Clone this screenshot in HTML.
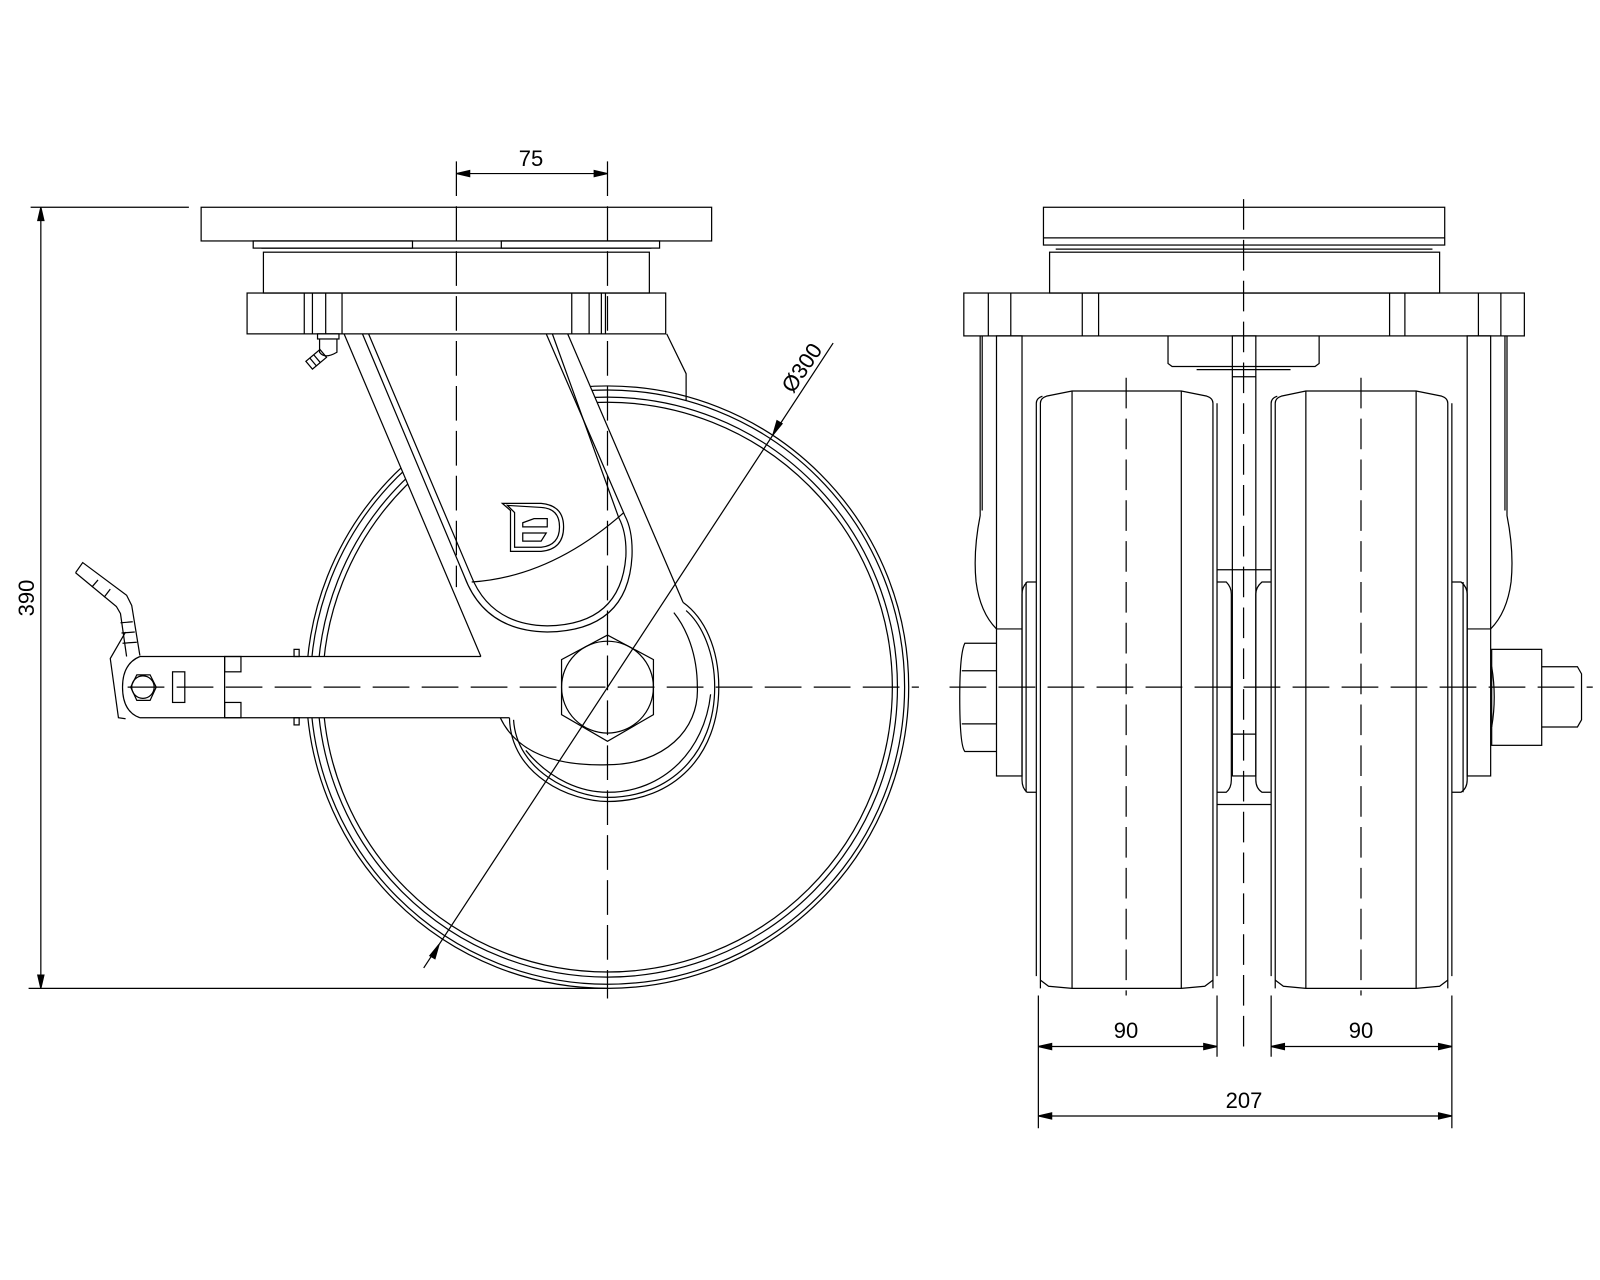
<!DOCTYPE html>
<html><head><meta charset="utf-8"><style>
html,body{margin:0;padding:0;background:#fff}
svg{display:block}
text{font-family:"Liberation Sans",sans-serif;font-size:22px;fill:#000}
</style></head><body>
<svg width="1600" height="1280" viewBox="0 0 1600 1280" xmlns="http://www.w3.org/2000/svg">
<rect width="1600" height="1280" fill="#fff"/>
<g transform="scale(1.021)" fill="none" stroke="#000" stroke-width="1.2">

<!-- ================= LEFT VIEW ================= -->
<!-- wheel -->
<circle cx="595" cy="673" r="295"/>
<circle cx="595" cy="673" r="291"/>
<circle cx="595" cy="673" r="284"/>
<circle cx="595" cy="673" r="279"/>

<!-- fork occluder -->
<path d="M337,327 L471,643 L137,643 Q120,650 120,673 Q120,697 137,703 L499,703 C500,760 560,785 595,785 C660,785 704,740 704,673 C704,635 690,605 669,590 L556,327 Z" fill="#fff" stroke="none"/>

<!-- top plate -->
<rect x="197" y="203" width="500" height="33"/>
<rect x="248" y="236" width="156" height="7"/>
<rect x="491" y="236" width="155" height="7"/>
<line x1="256" y1="243" x2="638" y2="243"/>
<rect x="258" y="247" width="378" height="40"/>
<rect x="242" y="287" width="410" height="40"/>
<line x1="298" y1="287" x2="298" y2="327"/><line x1="306" y1="287" x2="306" y2="327"/>
<line x1="319" y1="287" x2="319" y2="327"/><line x1="335" y1="287" x2="335" y2="327"/>
<line x1="560" y1="287" x2="560" y2="327"/><line x1="577" y1="287" x2="577" y2="327"/>
<line x1="589" y1="287" x2="589" y2="327"/><line x1="593" y1="287" x2="593" y2="327"/>
<!-- brake housing -->
<polyline points="653,327 672,366 672,392"/>
<!-- grease nipple -->
<rect x="311" y="327" width="21" height="5"/>
<path d="M313,332 L313,345 Q318,352 330,345 L330,332"/>
<g transform="rotate(-40 312 350)"><rect x="300" y="345" width="18" height="10"/><line x1="305" y1="345" x2="305" y2="355"/><line x1="310" y1="345" x2="310" y2="355"/></g>

<!-- fork outlines -->
<polyline points="337,327 471,643"/>
<line x1="556" y1="327" x2="669" y2="590"/>
<!-- slot double line -->
<path d="M355,327 L455,565 Q475,618 536,619 Q615,618 619,545 Q620,520 612,505 L535,327"/>
<path d="M361,327 L461,563 Q480,612 536,613 Q608,612 613,545 Q614,522 606,507 L541,327"/>
<path d="M462,570 Q540,565 611,502"/>
<!-- logo -->
<path d="M492,493 L500,500 L500,540 L530,540 Q552,538 552,516 Q552,495 530,493 Z"/>
<path d="M497,495 L504,502 L504,536 L530,536 Q548,534 548,516 Q548,498 530,497 Z"/>
<path d="M512,512 L523,508 L536,508 L536,516 L512,516 Z"/>
<path d="M512,522 L535,522 L530,530 L512,530 Z"/>

<!-- arm -->
<line x1="137" y1="643" x2="471" y2="643"/>
<line x1="137" y1="703" x2="499" y2="703"/>
<path d="M137,643 Q120,650 120,673 Q120,697 137,703"/>
<polygon points="128,673 134,661 147,661 153,673 147,686 134,686"/>
<circle cx="140" cy="673" r="11"/>
<rect x="169" y="658" width="12" height="30"/>
<line x1="220" y1="643" x2="220" y2="703"/>
<rect x="220" y="643" width="16" height="15"/>
<rect x="220" y="688" width="16" height="15"/>
<rect x="288" y="636" width="5" height="7"/>
<rect x="288" y="703" width="5" height="7"/>
<!-- pedal -->
<polyline points="74,561 81,551 124,583 129,593 137,642"/>
<polyline points="74,561 114,594 118,601 124,643"/>
<line x1="96" y1="568" x2="90" y2="575"/><line x1="108" y1="577" x2="102" y2="585"/>
<line x1="118" y1="610" x2="130" y2="609"/><line x1="119" y1="620" x2="132" y2="619"/><line x1="120" y1="630" x2="134" y2="629"/>
<polyline points="123,619 108,645 116,703 123,704"/>

<!-- hub lobe -->
<path d="M499,703 C500,760 560,785 595,785 C660,785 704,740 704,673 C704,635 690,605 669,590"/>
<path d="M503,705 C506,755 560,780 595,781 C656,781 700,738 700,673 C700,640 688,612 672,598"/>
<path d="M490,703 C510,745 560,750 595,749 C650,749 685,715 683,673 C683,640 672,615 660,600"/>
<path d="M515,735 C540,765 570,776 595,776 C650,776 690,735 696,680"/>
<polygon points="595,622 640,646 640,700 595,726 550,700 550,646"/>
<circle cx="595" cy="673" r="45"/>

<!-- centerlines left -->
<line x1="447" y1="158" x2="447" y2="575" stroke-dasharray="34,10"/>
<line x1="595" y1="158" x2="595" y2="978" stroke-dasharray="34,10"/>
<line x1="125" y1="673" x2="900" y2="673" stroke-dasharray="36,12"/>

<!-- diameter -->
<line x1="415" y1="948" x2="816" y2="336"/>
<polygon points="757,426 761,412 766,415" fill="#000"/>
<polygon points="430,925 426,939 421,936" fill="#000"/>

<!-- dim 75 -->
<line x1="447" y1="170" x2="595" y2="170"/>
<polygon points="447,170 460,167 460,173" fill="#000"/>
<polygon points="595,170 582,167 582,173" fill="#000"/>
<!-- dim 390 -->
<line x1="40" y1="203" x2="40" y2="968"/>
<line x1="30" y1="203" x2="185" y2="203"/>
<line x1="28" y1="968" x2="595" y2="968"/>
<polygon points="40,203 37,216 43,216" fill="#000"/>
<polygon points="40,968 37,955 43,955" fill="#000"/>

<!-- ================= RIGHT VIEW ================= -->
<rect x="1022" y="203" width="393" height="37"/>
<line x1="1022" y1="233" x2="1415" y2="233"/>
<line x1="1034" y1="244" x2="1403" y2="244"/>
<rect x="1028" y="247" width="382" height="40"/>
<rect x="944" y="287" width="549" height="42"/>
<line x1="968" y1="287" x2="968" y2="329"/><line x1="990" y1="287" x2="990" y2="329"/>
<line x1="1060" y1="287" x2="1060" y2="329"/><line x1="1076" y1="287" x2="1076" y2="329"/>
<line x1="1361" y1="287" x2="1361" y2="329"/><line x1="1376" y1="287" x2="1376" y2="329"/>
<line x1="1448" y1="287" x2="1448" y2="329"/><line x1="1470" y1="287" x2="1470" y2="329"/>
<path d="M1144,329 L1144,356 L1148,359 L1288,359 L1292,356 L1292,329"/>
<line x1="1172" y1="362" x2="1264" y2="362"/>
<!-- center strip -->
<rect x="1207" y="329" width="23" height="431"/>
<line x1="1207" y1="369" x2="1230" y2="369"/>
<line x1="1207" y1="719" x2="1230" y2="719"/>
<!-- left fork -->
<path d="M960,329 L960,505 Q953,540 956,570 Q960,600 976,616"/>
<line x1="962" y1="329" x2="962" y2="500"/>
<rect x="976" y="329" width="25" height="431"/>
<line x1="976" y1="616" x2="1001" y2="616"/>
<path d="M976,630 L945,630 Q940,640 940,683 Q940,730 945,736 L976,736"/>
<line x1="942" y1="657" x2="976" y2="657"/><line x1="942" y1="709" x2="976" y2="709"/>
<!-- right fork -->
<path d="M1476,329 L1476,505 Q1483,540 1480,570 Q1476,600 1460,616"/>
<line x1="1474" y1="329" x2="1474" y2="500"/>
<rect x="1437" y="329" width="23" height="431"/>
<line x1="1437" y1="616" x2="1460" y2="616"/>
<rect x="1461" y="636" width="49" height="94"/>
<path d="M1461,653 Q1466,683 1461,712"/>
<path d="M1510,653 L1545,653 L1549,660 L1549,705 L1545,712 L1510,712"/>
<!-- spacer -->
<line x1="1192" y1="558" x2="1245" y2="558"/>
<line x1="1192" y1="788" x2="1245" y2="788"/>
<!-- wheels -->
<path d="M1019,968 L1019,395 Q1019,390 1025,388 L1050,383 L1157,383 L1182,388 Q1188,390 1188,395 L1188,968"/>
<path d="M1015,956 L1015,395 Q1015,390 1021,388 M1192,395 L1192,956"/>
<path d="M1019,960 L1027,966 L1050,968 L1157,968 L1180,966 L1188,960"/>
<line x1="1050" y1="383" x2="1050" y2="968"/><line x1="1157" y1="383" x2="1157" y2="968"/>
<path d="M1249,968 L1249,395 Q1249,390 1255,388 L1279,383 L1387,383 L1412,388 Q1418,390 1418,395 L1418,968"/>
<path d="M1245,956 L1245,395 Q1245,390 1251,388 M1422,395 L1422,956"/>
<path d="M1249,960 L1257,966 L1279,968 L1387,968 L1410,966 L1418,960"/>
<line x1="1279" y1="383" x2="1279" y2="968"/><line x1="1387" y1="383" x2="1387" y2="968"/>
<!-- hub flanges -->
<path d="M1015,570 L1006,570 Q1001,575 1001,582 L1001,764 Q1001,772 1006,776 L1015,776"/>
<line x1="1005" y1="570" x2="1005" y2="776"/>
<path d="M1192,570 L1201,570 Q1206,575 1206,582 L1206,764 Q1206,772 1201,776 L1192,776"/>
<path d="M1245,570 L1236,570 Q1230,575 1230,582 L1230,764 Q1230,772 1236,776 L1245,776"/>
<path d="M1422,570 L1431,570 Q1437,575 1437,582 L1437,764 Q1437,772 1431,776 L1422,776"/>
<line x1="1433" y1="570" x2="1433" y2="776"/>
<!-- centerlines right -->
<line x1="1218" y1="195" x2="1218" y2="1035" stroke-dasharray="30,10"/>
<line x1="1103" y1="370" x2="1103" y2="975" stroke-dasharray="30,10"/>
<line x1="1333" y1="370" x2="1333" y2="975" stroke-dasharray="30,10"/>
<line x1="930" y1="673" x2="1560" y2="673" stroke-dasharray="36,12"/>

<!-- dims right -->
<line x1="1017" y1="975" x2="1017" y2="1105"/>
<line x1="1192" y1="975" x2="1192" y2="1035"/>
<line x1="1245" y1="975" x2="1245" y2="1035"/>
<line x1="1422" y1="975" x2="1422" y2="1105"/>
<line x1="1017" y1="1025" x2="1192" y2="1025"/>
<line x1="1245" y1="1025" x2="1422" y2="1025"/>
<line x1="1017" y1="1093" x2="1422" y2="1093"/>
<g fill="#000">
<polygon points="1017,1025 1030,1022 1030,1028"/><polygon points="1192,1025 1179,1022 1179,1028"/>
<polygon points="1245,1025 1258,1022 1258,1028"/><polygon points="1422,1025 1409,1022 1409,1028"/>
<polygon points="1017,1093 1030,1090 1030,1096"/><polygon points="1422,1093 1409,1090 1409,1096"/>
</g>
</g>

<!-- text (real coords) -->
<text x="531" y="166" text-anchor="middle">75</text>
<text x="1126" y="1038" text-anchor="middle">90</text>
<text x="1361" y="1038" text-anchor="middle">90</text>
<text x="1244" y="1108" text-anchor="middle">207</text>
<text transform="translate(34,598) rotate(-90)" text-anchor="middle">390</text>
<text transform="translate(808,372) rotate(-56)" text-anchor="middle">Ø300</text>
</svg>
</body></html>
